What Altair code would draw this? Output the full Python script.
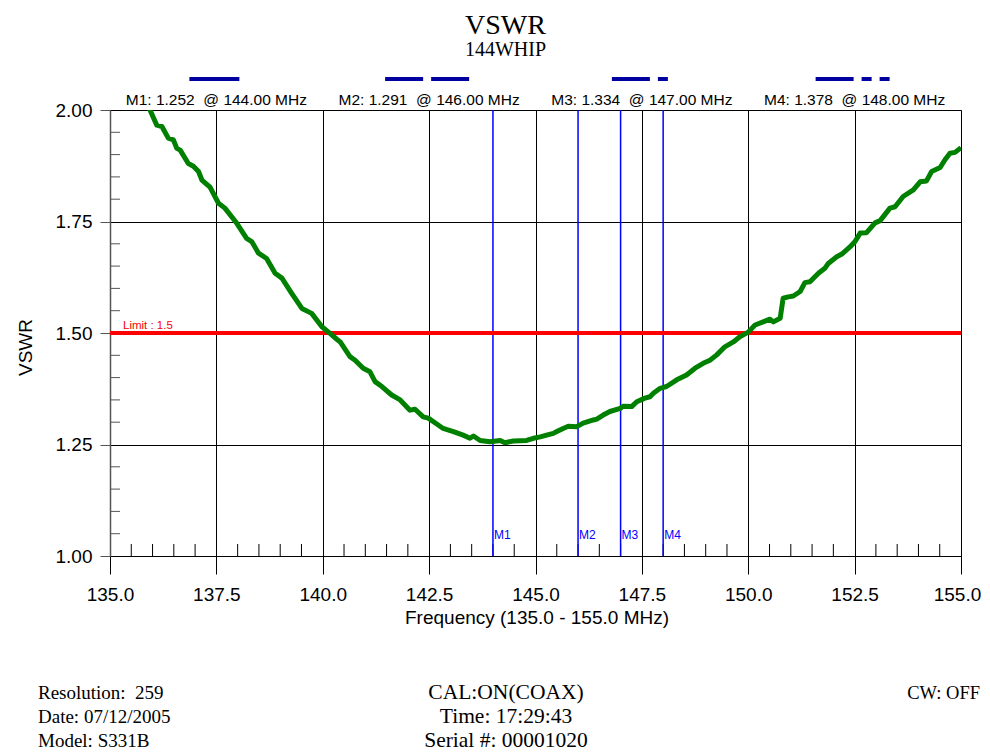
import altair as alt
import pandas as pd

# ---------------- data ----------------
freq = [135.90, 135.94, 136.10, 136.22, 136.37, 136.49, 136.57, 136.65, 136.84, 136.96,
        137.08, 137.16, 137.35, 137.55, 137.70, 137.98, 138.21, 138.33, 138.49, 138.68,
        138.88, 139.04, 139.27, 139.51, 139.74, 139.98, 140.17, 140.33, 140.41, 140.64,
        140.76, 140.95, 141.11, 141.23, 141.39, 141.62, 141.82, 142.05, 142.17, 142.36,
        142.48, 142.68, 142.83, 143.07, 143.30, 143.46, 143.54, 143.70, 143.93, 144.17,
        144.28, 144.48, 144.79, 144.95, 145.11, 145.26, 145.42, 145.50, 145.65, 145.77,
        145.97, 146.12, 146.36, 146.44, 146.59, 146.75, 146.99, 147.06, 147.26, 147.38,
        147.57, 147.69, 147.77, 147.93, 148.08, 148.32, 148.55, 148.75, 148.94, 149.10,
        149.26, 149.45, 149.65, 149.81, 150.00, 150.16, 150.35, 150.51, 150.59, 150.75,
        150.82, 150.94, 151.06, 151.22, 151.33, 151.45, 151.65, 151.80, 151.88, 152.08,
        152.20, 152.39, 152.51, 152.63, 152.78, 152.98, 153.10, 153.33, 153.45, 153.64,
        153.88, 154.04, 154.19, 154.31, 154.51, 154.62, 154.74, 154.86, 154.98, 155.00]
vswr = [2.010, 2.000, 1.966, 1.963, 1.937, 1.933, 1.914, 1.910, 1.880, 1.874,
        1.862, 1.843, 1.827, 1.791, 1.780, 1.746, 1.712, 1.705, 1.679, 1.667,
        1.634, 1.623, 1.589, 1.555, 1.544, 1.514, 1.499, 1.486, 1.480, 1.447,
        1.439, 1.421, 1.413, 1.391, 1.380, 1.361, 1.350, 1.327, 1.329, 1.312,
        1.309, 1.296, 1.286, 1.279, 1.271, 1.264, 1.269, 1.259, 1.256, 1.259,
        1.254, 1.258, 1.259, 1.264, 1.267, 1.271, 1.275, 1.279, 1.286, 1.291,
        1.290, 1.298, 1.305, 1.307, 1.316, 1.324, 1.331, 1.336, 1.335, 1.346,
        1.354, 1.357, 1.365, 1.376, 1.380, 1.395, 1.406, 1.421, 1.432, 1.439,
        1.451, 1.469, 1.480, 1.492, 1.502, 1.518, 1.525, 1.531, 1.525, 1.533,
        1.578, 1.581, 1.583, 1.593, 1.613, 1.615, 1.634, 1.645, 1.656, 1.671,
        1.677, 1.693, 1.705, 1.724, 1.725, 1.747, 1.752, 1.780, 1.783, 1.806,
        1.821, 1.839, 1.841, 1.862, 1.871, 1.888, 1.903, 1.905, 1.914, 1.916]

marker_names = ["M1", "M2", "M3", "M4"]
marker_freq = [144.00, 146.00, 147.00, 148.00]
marker_vswr = [1.252, 1.291, 1.334, 1.378]
limit_value = 1.5

x_ticks = [135.0, 137.5, 140.0, 142.5, 145.0, 147.5, 150.0, 152.5, 155.0]
y_ticks = [1.00, 1.25, 1.50, 1.75, 2.00]
x_minor = [135.5, 136.0, 136.5, 137.0, 138.0, 138.5, 139.0, 139.5,
           140.5, 141.0, 141.5, 142.0, 143.0, 143.5, 144.0, 144.5,
           145.5, 146.0, 146.5, 147.0, 148.0, 148.5, 149.0, 149.5,
           150.5, 151.0, 151.5, 152.0, 153.0, 153.5, 154.0, 154.5]
y_minor = [1.05, 1.10, 1.15, 1.20, 1.30, 1.35, 1.40, 1.45,
           1.55, 1.60, 1.65, 1.70, 1.80, 1.85, 1.90, 1.95]

title_text = "VSWR"
subtitle_text = "144WHIP"
x_title = "Frequency (135.0 - 155.0 MHz)"
y_title = "VSWR"
footer_left = ["Resolution:\u00a0 259", "Date: 07/12/2005", "Model: S331B"]
footer_center = ["CAL:ON(COAX)", "Time: 17:29:43", "Serial #: 00001020"]
footer_right = ["CW: OFF"]

# ---------------- styles ----------------
W, H = 851, 446
SANS = "Liberation Sans"
SERIF = "Liberation Serif"
x_lo, x_hi = 135.0, 155.0
legend_style = {
    "M1": dict(width=50),
    "M2": dict(width=84, dash=[38, 8]),
    "M3": dict(width=56, dash=[38, 8, 10, 8]),
    "M4": dict(width=74, dash=[38, 8, 10, 8]),
}

xscale = alt.Scale(domain=[x_lo, x_hi], nice=False, zero=False)
yscale = alt.Scale(domain=[1, 2], nice=False, zero=False)

xaxis = alt.Axis(values=x_ticks, format=".1f", grid=True, gridColor="black", gridWidth=1,
                 tickSize=18, tickColor="black", tickWidth=1,
                 domain=True, domainColor="black", domainWidth=1,
                 labelFont=SANS, labelFontSize=19, labelColor="black",
                 labelOffset={"condition": {"test": f"datum.value >= {x_hi}", "value": -4},
                              "value": 0},
                 labelPadding=26, labelBaseline="alphabetic", labelFlush=False, labelOverlap=False,
                 titleFont=SANS, titleFontSize=19, titleFontWeight="normal", titleColor="black",
                 titleX=W / 2 + 1, titleY=67, titleAlign="center", titleBaseline="alphabetic")
yaxis = alt.Axis(values=y_ticks, format=".2f", grid=True, gridColor="black", gridWidth=1,
                 tickSize=10, tickColor="#555", tickWidth=1,
                 domain=True, domainColor="#555", domainWidth=1.5,
                 labelFont=SANS, labelFontSize=19, labelColor="black",
                 labelPadding=8, labelBaseline="middle", labelFlush=False, labelOverlap=False,
                 titleFont=SANS, titleFontSize=19, titleFontWeight="normal", titleColor="black",
                 titleAngle=270, titleX=-79, titleY=237, titleAlign="center",
                 titleBaseline="alphabetic")


def X(field):
    return alt.X(f"{field}:Q", scale=xscale, axis=xaxis, title=x_title)


def Y(field):
    return alt.Y(f"{field}:Q", scale=yscale, axis=yaxis, title=y_title)


trace_df = pd.DataFrame({"f": freq, "v": vswr})
marker_df = pd.DataFrame({"name": marker_names, "f": marker_freq, "v": marker_vswr,
                          "bottom": [1.0] * 4, "top": [2.0] * 4})
marker_df["slot"] = [x_lo + (i + 0.5) * (x_hi - x_lo) / 4 for i in range(4)]
marker_df["readout"] = [f"{n}: {v:.3f}\u00a0 @ {f:.2f} MHz"
                        for n, v, f in zip(marker_names, marker_vswr, marker_freq)]
limit_df = pd.DataFrame({"f": [x_lo], "v": [limit_value], "label": [f"Limit : {limit_value}"]})
xminor_df = pd.DataFrame({"f": x_minor})
yminor_df = pd.DataFrame({"v": y_minor})

layers = []

layers.append(alt.Chart(yminor_df).mark_rule(color="#555", strokeWidth=1).encode(
    y=Y("v"), x=alt.value(0), x2=alt.value(10)))
layers.append(alt.Chart(xminor_df).mark_rule(color="black", strokeWidth=1).encode(
    x=X("f"), y=alt.value(H), y2=alt.value(H - 12)))

layers.append(alt.Chart(marker_df).mark_rule(color="#0000ff", strokeWidth=1.5).encode(
    x=X("f")))

layers.append(alt.Chart(limit_df).mark_rule(color="#ff0000", strokeWidth=4).encode(
    y=Y("v")))

layers.append(alt.Chart(trace_df).mark_line(color="#008000", strokeWidth=5, clip=True,
                                             strokeJoin="round").encode(x=X("f"), y=Y("v")))

layers.append(alt.Chart(marker_df).mark_text(color="#0000ff", font=SANS, fontSize=12,
                                             align="left", baseline="alphabetic",
                                             dx=1, dy=-17).encode(
    x=X("f"), y=Y("bottom"), text="name:N"))

layers.append(alt.Chart(limit_df).mark_text(color="#ff0000", font=SANS, fontSize=11.5,
                                            align="left", baseline="alphabetic",
                                            dx=13, dy=-4).encode(
    x=X("f"), y=Y("v"), text="label:N"))

layers.append(alt.Chart(marker_df).mark_text(color="black", font=SANS, fontSize=15.5,
                                             align="center", baseline="alphabetic",
                                             dy=-5).encode(
    x=X("slot"), y=Y("top"), text="readout:N"))

for n in marker_names:
    st = legend_style[n]
    kw = dict(color="#0000a0", strokeWidth=4, strokeCap="butt",
              xOffset=-st["width"] / 2 - 2, x2Offset=st["width"] / 2 - 2, yOffset=-31)
    if "dash" in st:
        kw["strokeDash"] = st["dash"]
    layers.append(alt.Chart(marker_df).transform_filter(alt.datum.name == n)
                  .mark_rule(**kw).encode(x=X("slot"), x2="slot", y=Y("top")))

for lines, xpos, align, size in [(footer_left, -72, "left", 19),
                                 (footer_center, 396, "center", 21.5),
                                 (footer_right, 870, "right", 18.5)]:
    layers.append(alt.Chart(pd.DataFrame({"t": ["\n".join(lines)]})).mark_text(
        font=SERIF, fontSize=size, color="black", align=align, baseline="alphabetic",
        lineBreak="\n", lineHeight=24).encode(
        x=alt.value(xpos), y=alt.value(589), text="t:N"))

chart = alt.layer(*layers).properties(
    width=W, height=H,
    title=alt.TitleParams(text=title_text, subtitle=subtitle_text, font=SERIF, fontSize=28,
                          fontWeight="normal", color="black", subtitleFont=SERIF,
                          subtitleFontSize=20, subtitleColor="black", subtitlePadding=0,
                          anchor="middle", frame="group", dx=-30, offset=17),
    padding={"left": 102, "top": 102, "right": 20, "bottom": 196},
    autosize=alt.AutoSizeParams(type="none"),
).configure_view(stroke="#666", strokeWidth=1)

chart.save("out.html", embed_options={"renderer": "svg", "actions": False})
